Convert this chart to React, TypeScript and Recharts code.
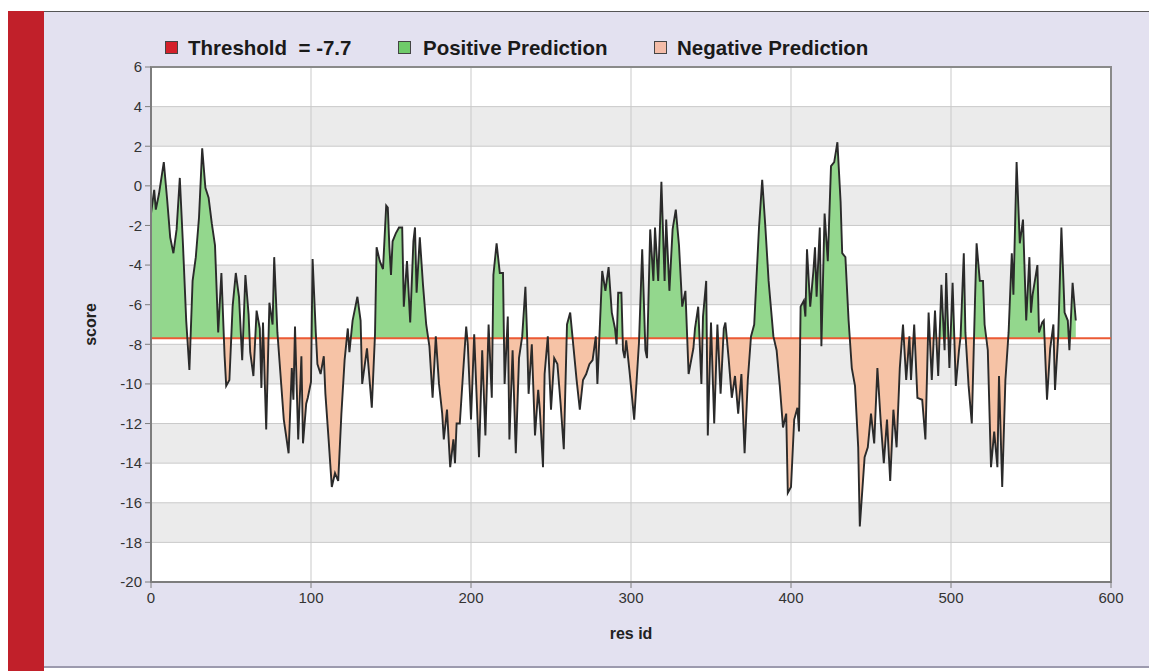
import React from 'react';
import {
  ComposedChart,
  Area,
  Line,
  XAxis,
  YAxis,
  CartesianGrid,
  ReferenceLine,
  ReferenceArea,
  Label,
} from 'recharts';

const THRESHOLD = -7.7;
const xTicks = [0, 100, 200, 300, 400, 500, 600];
const yTicks = [6, 4, 2, 0, -2, -4, -6, -8, -10, -12, -14, -16, -18, -20];
const legendLabels = ['Threshold  = -7.7', 'Positive Prediction', 'Negative Prediction'];

// [res id, score]
const seg0: [number, number][] = [
  [0, -1.4], [2, -0.2], [3, -1.2], [5, -0.4], [8, 1.2], [10, -0.6], [12, -2.6], [14, -3.4], [16, -2.2],
  [18, 0.4], [20, -3.0], [22, -6.8], [24, -9.3], [26, -4.8], [28, -3.6], [30, -1.6], [32, 1.9], [34, -0.1],
  [36, -0.6], [38, -1.9], [40, -3.0], [42, -7.4], [44, -4.4], [46, -8.6], [47, -10.1], [49, -9.8], [51, -6.1],
  [53, -4.4], [55, -5.6], [57, -8.8], [59, -4.5], [61, -6.5], [62, -8.4], [64, -9.6], [66, -6.3], [68, -7.2],
  [69, -10.2], [70, -6.9], [72, -12.3], [74, -5.9], [76, -7.0], [77, -3.6], [79, -7.4], [81, -9.6], [83, -11.8],
  [86, -13.5], [88, -9.2], [89, -10.8], [90, -7.1], [92, -12.8], [94, -8.6], [95, -13.0], [97, -11.0], [98, -10.7],
];
const seg1: [number, number][] = [
  [100, -9.9], [101, -3.7], [103, -7.4], [104, -9.0], [106, -9.5], [108, -8.6], [109, -10.5], [111, -12.8],
  [113, -15.2], [115, -14.5], [117, -14.9], [119, -11.5], [121, -8.8], [123, -7.2], [124, -8.4], [126, -6.8],
  [129, -5.6], [131, -6.8], [132, -10.0], [135, -8.2], [138, -11.2], [140, -7.5], [141, -3.1], [143, -3.8],
  [145, -4.2], [147, -1.0], [148, -1.1], [149, -3.1], [150, -4.5], [151, -2.8], [153, -2.4], [155, -2.1],
  [157, -2.1], [158, -6.1], [160, -3.8], [162, -6.9], [164, -2.8], [165, -2.1], [166, -5.4], [168, -2.6],
  [170, -5.0], [172, -7.0], [174, -8.1], [176, -10.7], [178, -7.6], [180, -10.0], [182, -11.5], [183, -12.8],
  [185, -11.3], [187, -14.2], [189, -12.8], [190, -14.0], [191, -12.0], [193, -12.0], [195, -9.5], [197, -7.1],
  [198, -8.0],
];
const seg2: [number, number][] = [
  [200, -11.8], [202, -7.5], [205, -13.7], [207, -8.3], [209, -12.6], [211, -7.0], [213, -10.7], [214, -4.5],
  [216, -2.9], [218, -4.4], [220, -4.4], [221, -10.0], [223, -6.6], [224, -12.8], [226, -8.3], [228, -13.5],
  [230, -8.7], [232, -7.6], [234, -5.1], [235, -7.4], [236, -10.5], [238, -8.0], [240, -12.6], [242, -10.3],
  [243, -11.3], [245, -14.2], [246, -9.5], [248, -7.6], [250, -11.3], [252, -8.7], [254, -9.0], [256, -11.0],
  [258, -13.3], [260, -7.0], [262, -6.4], [264, -8.1], [266, -9.8], [268, -11.3], [270, -9.8], [272, -9.5],
  [274, -9.0], [276, -8.8], [278, -7.6], [279, -10.0], [282, -4.3], [284, -5.3], [286, -4.1], [288, -6.4],
  [290, -7.2], [291, -8.0], [292, -5.4], [294, -5.4], [295, -8.3], [296, -8.7], [297, -7.8], [299, -9.3],
];
const seg3: [number, number][] = [
  [302, -11.8], [305, -7.9], [307, -3.2], [309, -8.3], [310, -8.7], [312, -2.2], [314, -4.8], [315, -2.1],
  [317, -4.8], [319, 0.2], [321, -4.8], [322, -1.7], [324, -5.3], [326, -2.2], [328, -1.2], [330, -3.0],
  [332, -6.1], [334, -5.3], [336, -9.5], [339, -8.2], [340, -7.2], [342, -6.1], [344, -10.0], [345, -6.6],
  [347, -4.8], [348, -12.6], [350, -6.9], [352, -12.0], [354, -7.0], [356, -10.5], [358, -7.2], [359, -6.9],
  [361, -8.7], [363, -10.7], [365, -9.6], [367, -11.5], [369, -9.5], [371, -13.5], [373, -9.8], [375, -7.6],
  [377, -7.0], [380, -2.1], [382, 0.3], [384, -2.1], [386, -4.8], [389, -7.6], [391, -8.3], [393, -10.1],
  [395, -12.2], [397, -11.5], [398, -15.5],
];
const seg4: [number, number][] = [
  [400, -15.2], [402, -11.8], [404, -11.2], [405, -12.4], [406, -6.1], [408, -5.8], [409, -6.6], [410, -3.2],
  [412, -6.1], [414, -4.3], [415, -3.1], [416, -5.6], [418, -2.1], [419, -8.1], [421, -1.4], [423, -3.8],
  [425, 1.0], [427, 1.2], [429, 2.2], [431, -0.8], [432, -3.4], [434, -3.6], [436, -6.8], [438, -9.2],
  [440, -10.1], [442, -13.2], [443, -17.2], [446, -13.7], [448, -13.2], [450, -11.5], [452, -13.0], [454, -9.2],
  [456, -11.8], [458, -14.0], [460, -11.8], [462, -14.9], [464, -11.3], [466, -13.2], [468, -9.2], [470, -7.0],
  [472, -9.8], [474, -7.6], [475, -9.8], [477, -7.0], [479, -10.7], [482, -10.8], [484, -12.8], [486, -6.4],
  [488, -9.8], [490, -6.3], [492, -9.6], [494, -5.0], [496, -8.3], [497, -4.4], [499, -9.2],
];
const seg5: [number, number][] = [
  [501, -4.9], [503, -10.1], [505, -8.3], [506, -7.6], [508, -3.4], [509, -7.4], [511, -10.1], [513, -12.0],
  [515, -5.8], [516, -2.9], [518, -4.8], [520, -4.8], [521, -7.0], [523, -8.3], [525, -14.2], [527, -12.4],
  [529, -14.2], [530, -9.6], [532, -15.2], [534, -9.8], [536, -7.4], [538, -3.4], [539, -5.5], [541, 1.2],
  [543, -2.9], [545, -1.7], [547, -6.8], [549, -3.6], [550, -6.4], [551, -5.5], [554, -4.0], [555, -7.4],
  [557, -6.9], [558, -6.8], [560, -10.8], [562, -8.2], [564, -7.0], [565, -10.3], [567, -7.6], [569, -2.1],
  [571, -6.4], [573, -6.8], [574, -8.3], [576, -4.9], [578, -6.8],
];

const data = [...seg0, ...seg1, ...seg2, ...seg3, ...seg4, ...seg5].map(([res, score]) => ({ res, score }));
const maxScore = Math.max(...data.map((d) => d.score));
const minScore = Math.min(...data.map((d) => d.score));
const splitOffset = (maxScore - THRESHOLD) / (maxScore - minScore);

const GREEN = '#93D78D';
const SALMON = '#F6C3A6';
const FONT = '"Liberation Sans", Arial, sans-serif';

const tickStyle = { fontSize: 15, fill: '#333', fontFamily: FONT };

const ScoreLabel = (props: any) => {
  const vb = props.viewBox || { x: 0, y: 0, width: 0, height: 0 };
  const cx = vb.x - 1;
  const cy = vb.y + vb.height / 2;
  return (
    <text x={cx} y={cy} transform={`rotate(-90, ${cx}, ${cy})`} textAnchor="middle" dominantBaseline="central"
      style={{ fontSize: 16, fontWeight: 'bold', fill: '#222', fontFamily: FONT }}>
      score
    </text>
  );
};

const ResLabel = (props: any) => {
  const vb = props.viewBox || { x: 0, y: 0, width: 0, height: 0 };
  return (
    <text x={vb.x + vb.width / 2} y={vb.y + 51} textAnchor="middle" dominantBaseline="central"
      style={{ fontSize: 16, fontWeight: 'bold', fill: '#222', fontFamily: FONT }}>
      res id
    </text>
  );
};

const legendItems = [
  { label: legendLabels[0], color: '#D4202A', sq: 165, tx: 188 },
  { label: legendLabels[1], color: '#6FCB6A', sq: 398, tx: 423 },
  { label: legendLabels[2], color: '#F4BCA8', sq: 654, tx: 677 },
];

export default function App() {
  return (
    <div style={{ position: 'relative', width: 1149, height: 671, overflow: 'hidden', fontFamily: FONT, background: '#fff' }}>
      <style>{'body{margin:0;overflow:hidden;}'}</style>
      <div style={{ position: 'absolute', left: 8, top: 11, width: 36, height: 660, background: '#C1202A' }} />
      <div style={{ position: 'absolute', left: 44, top: 11, width: 1105, height: 657, background: '#E3E1F0', borderTop: '1px solid #555', borderBottom: '2px solid #9C9AAE', boxSizing: 'border-box' }} />
      {legendItems.map((it) => (
        <React.Fragment key={it.label}>
          <div style={{ position: 'absolute', left: it.sq, top: 41, width: 11, height: 11, background: it.color, border: '1px solid #444' }} />
          <div style={{ position: 'absolute', left: it.tx, top: 35, height: 26, lineHeight: '26px', fontSize: 20.5, fontWeight: 'bold', color: '#1a1a1a', whiteSpace: 'pre' }}>
            {it.label}
          </div>
        </React.Fragment>
      ))}
      <div style={{ position: 'absolute', left: 0, top: 0 }}>
        <ComposedChart width={1149} height={671} data={data} margin={{ top: 67, right: 38, bottom: 59, left: 91 }}>
          <defs>
            <linearGradient id="splitFill" x1="0" y1="0" x2="0" y2="1">
              <stop offset={0} stopColor={GREEN} />
              <stop offset={splitOffset} stopColor={GREEN} />
              <stop offset={splitOffset} stopColor={SALMON} />
              <stop offset={1} stopColor={SALMON} />
            </linearGradient>
          </defs>
          <CartesianGrid stroke="#C9C9C9" horizontalFill={['#FFFFFF', '#EBEBEB']} fill="#FFFFFF" />
          <XAxis
            dataKey="res"
            type="number"
            domain={[0, 600]}
            ticks={xTicks}
            interval={0}
            height={30}
            tick={tickStyle}
            tickSize={6}
            tickMargin={4}
            axisLine={{ stroke: '#7d7d7d', strokeWidth: 2 }}
            tickLine={{ stroke: '#7d7d7d' }}
          >
            <Label content={<ResLabel />} />
          </XAxis>
          <YAxis
            type="number"
            domain={[-20, 6]}
            ticks={yTicks}
            interval={0}
            width={60}
            tick={tickStyle}
            tickSize={6}
            tickMargin={3}
            axisLine={{ stroke: '#7d7d7d', strokeWidth: 2 }}
            tickLine={{ stroke: '#7d7d7d' }}
          >
            <Label content={<ScoreLabel />} />
          </YAxis>
          <Area
            dataKey="score"
            type="linear"
            baseValue={THRESHOLD}
            fill="url(#splitFill)"
            fillOpacity={1}
            stroke="none"
            isAnimationActive={false}
          />
          <ReferenceLine y={THRESHOLD} stroke="#EB5A35" strokeWidth={2} />
          <Line
            dataKey="score"
            type="linear"
            stroke="#2a2a2a"
            strokeWidth={1.9}
            dot={false}
            activeDot={false}
            isAnimationActive={false}
          />
          <ReferenceArea x1={0} x2={600} y1={-20} y2={6} fill="none" stroke="#8a8a8a" strokeWidth={2} />
        </ComposedChart>
      </div>
    </div>
  );
}
